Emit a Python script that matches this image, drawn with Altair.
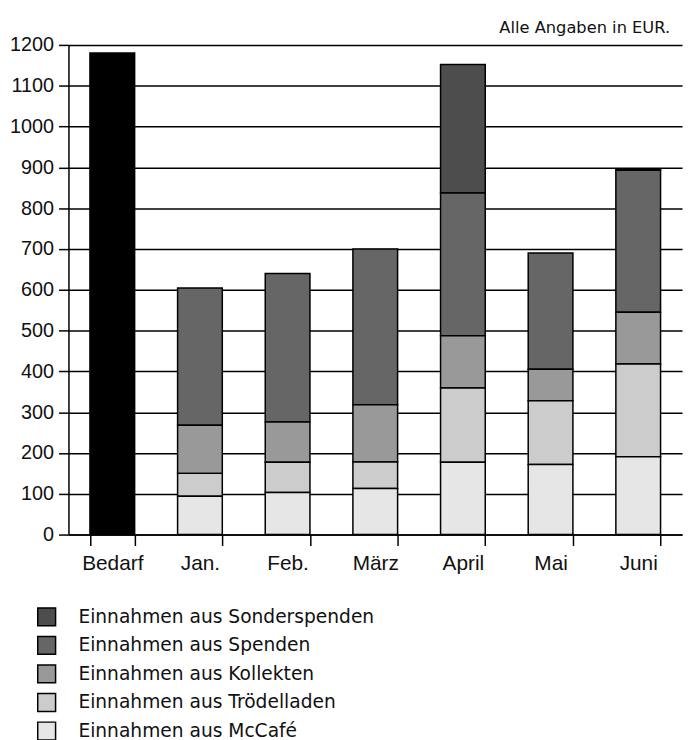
import altair as alt
import pandas as pd

categories = ["Bedarf", "Jan.", "Feb.", "März", "April", "Mai", "Juni"]
months = ["Jan.", "Feb.", "März", "April", "Mai", "Juni"]
bedarf = [1180]
mccafe = [94, 103, 113, 177, 172, 191]
troedel = [56, 74, 65, 182, 156, 227]
kollekten = [118, 99, 140, 128, 77, 127]
spenden = [336, 364, 382, 350, 285, 348]
sonder = [0, 0, 0, 315, 0, 3]

series_names = [
    "Einnahmen aus Sonderspenden",
    "Einnahmen aus Spenden",
    "Einnahmen aus Kollekten",
    "Einnahmen aus Trödelladen",
    "Einnahmen aus McCafé",
]
series_colors = ["#4d4d4d", "#666666", "#999999", "#cccccc", "#e6e6e6"]
series_values = [sonder, spenden, kollekten, troedel, mccafe]
y_ticks = list(range(0, 1300, 100))

rows = []
for s_idx, (name, vals) in enumerate(zip(series_names, series_values)):
    for m, v in zip(months, vals):
        if v > 0:
            rows.append({"Monat": m, "Serie": name, "Wert": v,
                         "ord": len(series_names) - s_idx})
df = pd.DataFrame(rows)
df_bedarf = pd.DataFrame({"Monat": ["Bedarf"], "Wert": bedarf})

x_enc = alt.X("Monat:N",
              scale=alt.Scale(domain=categories, paddingInner=0.49, paddingOuter=0.245),
              axis=alt.Axis(title=None, labelAngle=0, tickBand="extent", tickSize=11,
                            tickColor="black", tickWidth=1.5, domainColor="black",
                            domainWidth=1.5, labelFont="Liberation Sans",
                            labelFontSize=21, labelColor="#111", labelPadding=7,
                            grid=False))
y_scale = alt.Scale(domain=[0, 1200], nice=False)
y_axis = alt.Axis(title=None, values=y_ticks, format="d", grid=True,
                  gridColor="black", gridWidth=1.5, gridOpacity=1, tickSize=10,
                  tickColor="black", tickWidth=1.5, domainColor="black",
                  domainWidth=1.5, labelFont="Liberation Sans", labelFontSize=20,
                  labelColor="#111", labelPadding=5)

bedarf_bar = alt.Chart(df_bedarf).mark_bar(color="black", stroke="black",
                                           strokeWidth=1.5).encode(
    x=x_enc,
    y=alt.Y("Wert:Q", scale=y_scale, axis=y_axis),
)

stack = alt.Chart(df).mark_bar(stroke="black", strokeWidth=1.5, opacity=1).encode(
    x=x_enc,
    y=alt.Y("Wert:Q", stack="zero", scale=y_scale, axis=y_axis),
    color=alt.Color("Serie:N",
                    scale=alt.Scale(domain=series_names, range=series_colors),
                    legend=alt.Legend(orient="none", legendX=-32, legendY=567,
                                      title=None, symbolType="square",
                                      symbolSize=324, symbolStrokeColor="black",
                                      symbolStrokeWidth=1.5, symbolOpacity=1,
                                      labelFont="DejaVu Sans", labelFontSize=18.8,
                                      labelColor="#111", labelLimit=500,
                                      rowPadding=4.8, labelOffset=22, padding=0)),
    order=alt.Order("ord:Q", sort="ascending"),
)

chart = alt.layer(bedarf_bar, stack).properties(
    width=619,
    height=494,
    autosize=alt.AutoSizeParams(type="none"),
    padding={"left": 61, "top": 34, "right": 4, "bottom": 204},
    title=alt.TitleParams("Alle Angaben in EUR.", anchor="end", frame="group",
                          font="DejaVu Sans", fontSize=16.4, fontWeight="normal",
                          color="#111", dx=-12, offset=-14, baseline="alphabetic"),
).configure_view(stroke=None)

chart.save("out.html", embed_options={"renderer": "svg", "actions": False})
